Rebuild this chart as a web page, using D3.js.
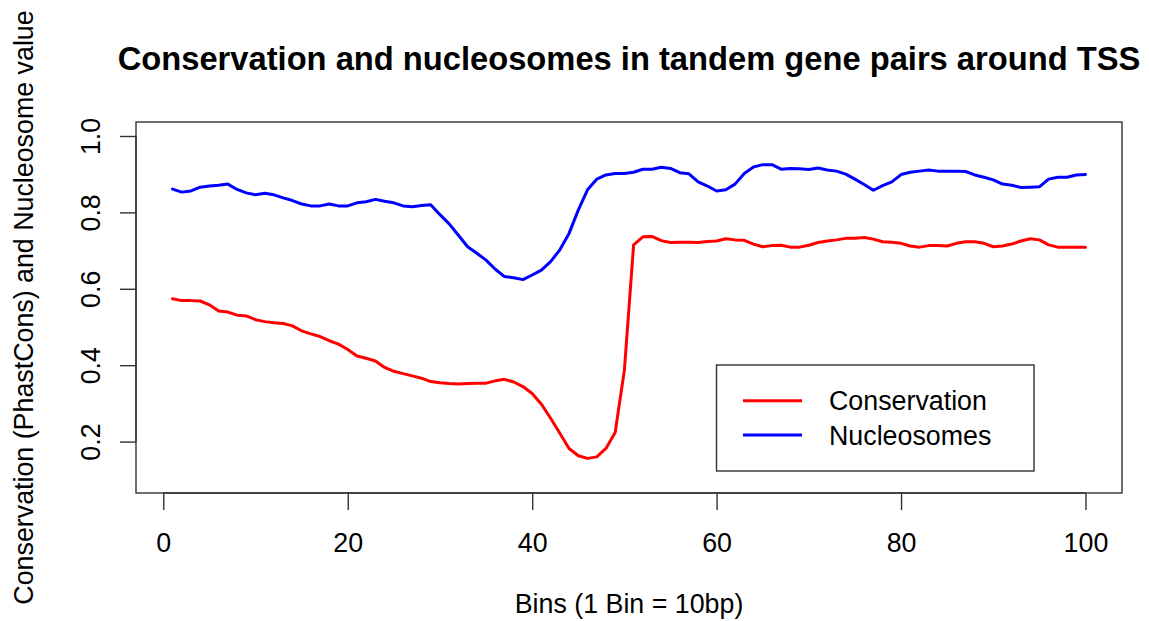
<!DOCTYPE html>
<html>
<head>
<meta charset="utf-8">
<script src="https://cdn.jsdelivr.net/npm/d3@7"></script>
<style>
  html, body { margin: 0; padding: 0; background: #fff; }
  svg { display: block; }
  text { font-family: "Liberation Sans", Arial, Helvetica, sans-serif; fill: #000; }
</style>
</head>
<body>
<svg id="chart" width="1149" height="621"></svg>
<script>
const title = "Conservation and nucleosomes in tandem gene pairs around TSS";
const xLabel = "Bins (1 Bin = 10bp)";
const yLabel = "Conservation (PhastCons) and Nucleosome value";
const seriesNames = ["Conservation", "Nucleosomes"];
const seriesColors = ["#ff0000", "#0000ff"];
const xTicks = [0, 20, 40, 60, 80, 100];
const yTicks = [0.2, 0.4, 0.6, 0.8, 1.0];

const conservation = [
  0.574, 0.569, 0.569, 0.568, 0.558, 0.542, 0.539, 0.531, 0.529, 0.519,
  0.514, 0.511, 0.509, 0.503, 0.490, 0.482, 0.475, 0.464, 0.455, 0.441,
  0.424, 0.418, 0.411, 0.394, 0.384, 0.378, 0.372, 0.366, 0.357, 0.354,
  0.352, 0.351, 0.352, 0.353, 0.353, 0.359, 0.363, 0.356, 0.344, 0.326,
  0.298, 0.261, 0.222, 0.182, 0.163, 0.156, 0.160, 0.182, 0.224, 0.387,
  0.715, 0.736, 0.737, 0.726, 0.721, 0.722, 0.722, 0.721, 0.724, 0.725,
  0.731, 0.728, 0.727, 0.717, 0.710, 0.713, 0.714, 0.709, 0.709, 0.714,
  0.721, 0.725, 0.728, 0.732, 0.732, 0.734, 0.730, 0.723, 0.722, 0.719,
  0.712, 0.709, 0.713, 0.713, 0.712, 0.719, 0.723, 0.723, 0.719, 0.710,
  0.712, 0.717, 0.725, 0.731, 0.728, 0.715, 0.709, 0.709, 0.709, 0.709
];
const nucleosomes = [
  0.861, 0.853, 0.856, 0.866, 0.869, 0.871, 0.874, 0.860, 0.851, 0.846,
  0.850, 0.846, 0.838, 0.831, 0.822, 0.817, 0.817, 0.822, 0.817, 0.817,
  0.825, 0.828, 0.834, 0.829, 0.825, 0.817, 0.815, 0.818, 0.820, 0.794,
  0.770, 0.740, 0.710, 0.693, 0.675, 0.651, 0.632, 0.629, 0.624, 0.636,
  0.649, 0.671, 0.702, 0.745, 0.806, 0.859, 0.887, 0.898, 0.902, 0.902,
  0.905, 0.913, 0.913, 0.918, 0.915, 0.904, 0.901, 0.880, 0.869, 0.856,
  0.859, 0.874, 0.902, 0.919, 0.925, 0.925, 0.913, 0.915, 0.914, 0.912,
  0.916, 0.911, 0.908, 0.900, 0.887, 0.873, 0.858, 0.870, 0.880, 0.899,
  0.905, 0.908, 0.911, 0.908, 0.908, 0.908, 0.907, 0.898, 0.892, 0.885,
  0.874, 0.871, 0.865, 0.866, 0.867, 0.887, 0.892, 0.892, 0.898, 0.899
];
const series = [conservation, nucleosomes];

const svg = d3.select("#chart");
const box = { left: 136, right: 1122, top: 122, bottom: 493 };
const baseFont = 26.8;

const x = d3.scaleLinear().domain([-2.96, 103.96]).range([box.left, box.right]);
const y = d3.scaleLinear().domain([0.0654, 1.0366]).range([box.bottom, box.top]);

// plot box
svg.append("rect")
  .attr("x", box.left).attr("y", box.top)
  .attr("width", box.right - box.left).attr("height", box.bottom - box.top)
  .attr("fill", "none").attr("stroke", "#333").attr("stroke-width", 1.4);

// x axis
const xAxis = d3.axisBottom(x).tickValues(xTicks).tickSize(17).tickPadding(23).tickFormat(d3.format("d"));
const gx = svg.append("g").attr("transform", `translate(0,${box.bottom})`).call(xAxis);
gx.select(".domain").attr("d", `M${x(xTicks[0])},0H${x(xTicks[xTicks.length-1])}`)
  .attr("stroke", "#333").attr("stroke-width", 1.4);
gx.selectAll(".tick line").attr("stroke", "#333").attr("stroke-width", 1.4);
gx.selectAll(".tick text").attr("font-size", baseFont)
  .attr("font-family", "'Liberation Sans', Arial, sans-serif").attr("fill", "#000");

// y axis
const yAxis = d3.axisLeft(y).tickValues(yTicks).tickSize(16).tickFormat(d3.format(".1f"));
const gy = svg.append("g").attr("transform", `translate(${box.left},0)`).call(yAxis);
gy.select(".domain").attr("d", `M0,${y(yTicks[0])}V${y(yTicks[yTicks.length-1])}`)
  .attr("stroke", "#333").attr("stroke-width", 1.4);
gy.selectAll(".tick line").attr("stroke", "#333").attr("stroke-width", 1.4);
gy.selectAll(".tick text")
  .attr("font-size", baseFont)
  .attr("font-family", "'Liberation Sans', Arial, sans-serif").attr("fill", "#000")
  .attr("x", null).attr("dy", null)
  .attr("text-anchor", "middle")
  .attr("transform", "translate(-36,0) rotate(-90)");

// lines
const line = d3.line().x((d, i) => x(i + 1)).y(d => y(d));
series.forEach((s, k) => {
  svg.append("path").datum(s)
    .attr("d", line)
    .attr("fill", "none")
    .attr("stroke", seriesColors[k])
    .attr("stroke-width", 3)
    .attr("stroke-linejoin", "round")
    .attr("stroke-linecap", "round");
});

// title
svg.append("text")
  .attr("x", (box.left + box.right) / 2).attr("y", 70)
  .attr("text-anchor", "middle")
  .attr("font-size", 32.7).attr("font-weight", "bold")
  .text(title);

// axis labels
svg.append("text")
  .attr("x", (box.left + box.right) / 2).attr("y", 613)
  .attr("text-anchor", "middle").attr("font-size", baseFont)
  .text(xLabel);
svg.append("text")
  .attr("transform", `translate(33,${(box.top + box.bottom) / 2}) rotate(-90)`)
  .attr("text-anchor", "middle").attr("font-size", baseFont)
  .text(yLabel);

// legend
const lg = { left: 716.5, top: 365, right: 1034, bottom: 471 };
svg.append("rect")
  .attr("x", lg.left).attr("y", lg.top)
  .attr("width", lg.right - lg.left).attr("height", lg.bottom - lg.top)
  .attr("fill", "#fff").attr("stroke", "#333").attr("stroke-width", 1.4);
const legendRows = [400.7, 435];
seriesNames.forEach((name, k) => {
  svg.append("line")
    .attr("x1", 743).attr("x2", 802)
    .attr("y1", legendRows[k]).attr("y2", legendRows[k])
    .attr("stroke", seriesColors[k]).attr("stroke-width", 3);
  svg.append("text")
    .attr("x", 829).attr("y", legendRows[k])
    .attr("dy", "0.36em")
    .attr("font-size", baseFont)
    .attr("fill", "#222")
    .text(name);
});
</script>
</body>
</html>
